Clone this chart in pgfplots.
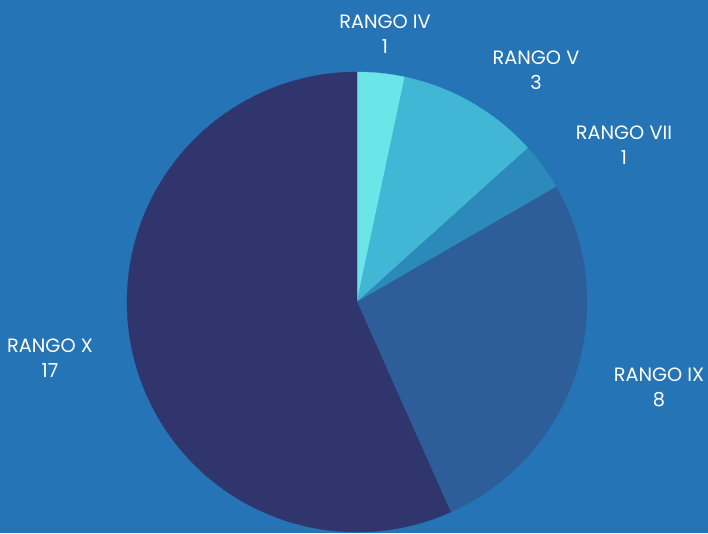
\documentclass[border=0pt]{standalone}
\usepackage{pgfplots}
\usepackage{pgfplotstable}
\pgfplotsset{compat=1.18}
\usepackage{fontspec}
\setmainfont{Poppins}
\definecolor{bg}{HTML}{2574B6}
\definecolor{pie0}{HTML}{6BE5E8}
\definecolor{pie1}{HTML}{42B7D5}
\definecolor{pie2}{HTML}{2C8ABA}
\definecolor{pie3}{HTML}{2E5E99}
\definecolor{pie4}{HTML}{31356D}
\pgfplotstableread[col sep=comma]{
name,value,lx,ly
RANGO IV,1,385,499
RANGO V,3,536,463
RANGO VII,1,624,388
RANGO IX,8,659,146
RANGO X,17,50,175
}\piedata
\begin{document}
\begin{tikzpicture}
\begin{axis}[width=708pt,height=533pt,scale only axis,
  xmin=0,xmax=708,ymin=0,ymax=533,
  axis background/.style={fill=bg},
  axis line style={draw=none}, ticks=none, clip=false]
\pgfplotstablegetrowsof{\piedata}
\pgfmathtruncatemacro{\nrows}{\pgfplotsretval-1}
\def\total{0}
\pgfplotsforeachungrouped \i in {0,...,\nrows}{%
  \pgfplotstablegetelem{\i}{value}\of{\piedata}%
  \pgfmathsetmacro{\total}{\total+\pgfplotsretval}%
}
\def\cum{0}
\pgfplotsforeachungrouped \i in {0,...,\nrows}{%
  \pgfplotstablegetelem{\i}{value}\of{\piedata}\let\v\pgfplotsretval
  \pgfplotstablegetelem{\i}{name}\of{\piedata}\let\nm\pgfplotsretval
  \pgfplotstablegetelem{\i}{lx}\of{\piedata}\let\lx\pgfplotsretval
  \pgfplotstablegetelem{\i}{ly}\of{\piedata}\let\ly\pgfplotsretval
  \pgfmathsetmacro{\sa}{90-\cum*360/\total}%
  \pgfmathsetmacro{\ea}{90-(\cum+\v)*360/\total}%
  \pgfmathsetmacro{\cum}{\cum+\v}%
  \edef\temp{\noexpand\fill[pie\i, draw=pie\i, line width=0.3pt] (axis cs:357,231) -- ([shift={(\sa:230pt)}]axis cs:357,231) arc[start angle=\sa, end angle=\ea, radius=230pt] -- cycle;
    \noexpand\node[white, align=center, inner sep=0pt, font=\noexpand\fontsize{19.3}{25}\noexpand\selectfont] at (axis cs:\lx,\ly) {\nm\noexpand\\\v};}%
  \temp
}
\end{axis}
\pgfresetboundingbox
\path[use as bounding box] (current axis.south west) rectangle (current axis.north east);
\end{tikzpicture}
\end{document}
